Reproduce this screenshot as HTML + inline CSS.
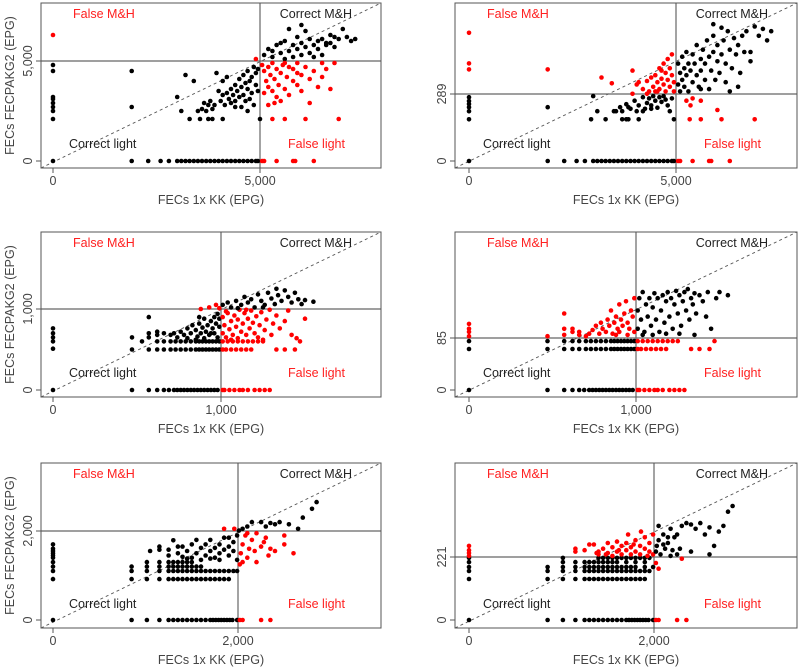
<!DOCTYPE html>
<html><head><meta charset="utf-8">
<style>
html,body{margin:0;padding:0;background:#fff;}
svg{display:block;font-family:"Liberation Sans",Arial,sans-serif;}
</style></head>
<body>
<svg id="chart" width="800" height="667" viewBox="0 0 800 667" xmlns="http://www.w3.org/2000/svg"></svg>
<script>
// ---------- DATA ----------
const xThresholds = [5000, 5000, 1000, 1000, 2000, 2000];
const yThresholds = [5000, 289, 1000, 85, 2000, 221];
const xTickLabels = ["5,000","5,000","1,000","1,000","2,000","2,000"];
const yTickLabels = ["5,000","289","1,000","85","2,000","221"];

const p1ZeroX = [0,1900,2300,2600,2800,3000,3100,3200,3300,3400,3500,3600,3700,3800,3900,4000,4100,4200,4300,4400,4500,4600,4700,4800,4900,4950,5050,5100,5400,5800,5850,6300];
const p1Pts = [[0,2100],[0,2500],[0,2700],[0,2900],[0,3100],[0,3200],[0,4500],[0,4800],[0,6300],[1900,2700],[1900,4500],
[3000,3200],[3100,2500],[3200,4300],[3400,4000],[3500,2500],[3600,2600],[3650,2900],[3700,2500],[3750,2800],[3800,3000],[3850,2600],[3900,2800],[3950,4400],[4000,3500],[4050,3000],[4100,3300],[4100,4000],[4150,2800],[4200,3400],[4200,4200],[4250,3100],[4300,3600],[4300,2900],[4350,3300],[4400,3800],[4400,3000],[4450,3500],[4500,4100],[4500,3200],[4550,3700],[4550,2700],[4600,3300],[4600,4300],[4650,3900],[4650,3000],[4700,3600],[4700,4500],[4750,4000],[4750,3100],[4800,4200],[4800,3400],[4850,4700],[4850,2800],[4900,3800],[4900,4400],[4950,4600],[4950,3500],[4700,2500],[4400,2700],[3300,2100],[3550,2100],[3750,2100],[3850,2100],[4100,2100],[5000,2100],[4900,5100],
[5100,5300],[5200,5600],[5300,5200],[5400,5800],[5500,5400],[5600,5100],[5600,6000],[5700,5500],[5800,5800],[5800,5200],[5900,6200],[5900,5600],[6000,5300],[6000,5900],[6100,6500],[6100,5700],[6200,5400],[6200,6100],[6300,5800],[6300,5200],[6400,6000],[6400,5600],[6500,6100],[6500,5300],[6600,5800],[6700,6300],[6700,5900],[6800,6200],[6900,6100],[7000,6600],[7100,6200],[7200,6000],[7300,6100],[6000,6800],[5700,6600],[6600,5900],[5300,5500],[5500,5900],[6800,5700],
[5050,4800],[5100,4500],[5150,4000],[5200,4700],[5200,3700],[5250,4300],[5300,4900],[5300,3500],[5350,4100],[5400,4600],[5400,3200],[5450,3800],[5500,4400],[5500,3000],[5550,4800],[5600,3600],[5650,4200],[5700,4700],[5700,3300],[5800,4000],[5800,4600],[5900,3800],[5900,4900],[6000,4300],[6000,3500],[6100,4700],[6200,4100],[6200,2900],[6300,4500],[6400,3700],[6500,4900],[6500,4200],[6700,3600],[6600,4600],[6800,4900],[5100,3400],[5200,2800],[5350,2900],[5600,4900],[5900,4400],
[5300,2100],[5600,2100],[6100,2100],[6900,2100]];

const p2ZeroX = [0,1900,2300,2600,2800,3000,3100,3200,3300,3400,3500,3600,3700,3800,3900,4000,4100,4200,4300,4400,4500,4600,4700,4800,4900,4950,5050,5100,5400,5800,5850,6300];
const p2Pts = [[0,180],[0,215],[0,232],[0,246],[0,259],[0,275],[0,395],[0,421],[0,553],[1900,232],[1900,395],
[2950,180],[3300,180],[3700,180],[3800,180],[3850,180],[4100,180],[4950,180],[5330,180],[5600,180],[6100,180],[6900,180],
[3000,280],[3100,215],[3500,215],[3550,215],[3650,232],[3700,215],[3800,245],[3850,232],[3900,225],[4000,260],[4050,215],[4100,240],[4200,275],[4250,225],[4300,250],[4350,270],[4400,240],[4450,280],[4500,260],[4550,230],[4600,275],[4650,255],[4700,280],[4750,265],[4800,240],[4850,215],[4900,270],[4400,225],[4200,215],
[3200,360],[3450,335],[3950,290],[3950,390],[4050,330],[4100,340],[4200,310],[4300,290],[4300,345],[4350,300],[4400,360],[4450,320],[4500,370],[4500,300],[4550,340],[4600,400],[4600,310],[4650,355],[4700,420],[4700,330],[4750,380],[4750,300],[4800,440],[4800,350],[4850,400],[4850,320],[4900,460],[4900,370],[4950,340],[4950,300],[4650,390],[4550,300],
[5250,260],[5350,240],[5400,270],[5600,260],[6000,220],
[5050,330],[5050,420],[5100,380],[5100,300],[5150,450],[5150,350],[5200,400],[5200,320],[5250,470],[5250,370],[5300,420],[5300,300],[5350,390],[5400,460],[5400,340],[5450,420],[5500,370],[5500,500],[5550,320],[5600,440],[5600,390],[5650,480],[5700,350],[5700,420],[5750,520],[5800,450],[5800,310],[5850,390],[5900,470],[5900,540],[5950,350],[6000,430],[6000,500],[6050,380],[6100,460],[6150,520],[6200,420],[6200,340],[6250,560],[6300,480],[6350,400],[6400,530],[6450,460],[6500,500],[6550,380],[6600,540],[6650,470],[6700,560],[6800,430],[6900,580],[7000,540],[7100,570],[7200,520],[7300,560],[5900,590],[6100,575],[6300,300],[5600,310],[6500,320],[6800,470]];

const p3ZeroX = [0,470,570,620,660,690,720,740,760,780,800,820,840,860,880,900,920,940,960,980,1010,1020,1050,1080,1110,1130,1160,1200,1230,1260,1290];
const p3Row500X = [470,570,620,660,700,730,760,790,820,850,870,890,910,930,950,970,990,1010,1030,1060,1090,1120,1150,1180,1330,1380,1440];
const p3Row600X = [530,620,660,700,730,760,790,820,850,870,890,910,930,950,970,990,1010,1040,1070,1100,1130,1160,1190,1220,1250,1470];
const p3Pts = [[0,510],[0,600],[0,650],[0,700],[0,760],[470,650],[570,650],[570,700],[570,900],[620,680],[620,720],[660,700],[700,680],
[720,700],[740,650],[760,720],[780,680],[800,760],[800,640],[820,700],[830,800],[850,740],[860,660],[870,820],[880,700],[890,770],[900,880],[900,640],[910,720],[920,800],[930,680],[940,850],[950,760],[960,900],[960,700],[970,820],[980,940],[980,650],[990,780],[990,880],[940,700],[870,900],[850,620],
[930,1020],[970,1050],[990,1010],[880,1000],
[1010,700],[1010,900],[1020,800],[1030,650],[1040,950],[1050,750],[1060,850],[1070,680],[1080,920],[1090,780],[1100,640],[1100,870],[1110,990],[1120,720],[1130,820],[1140,950],[1150,680],[1160,880],[1170,760],[1180,980],[1190,830],[1200,700],[1210,910],[1220,650],[1230,800],[1240,960],[1260,740],[1270,870],[1290,990],[1300,680],[1310,820],[1330,920],[1350,760],[1380,850],[1400,980],[1420,680],[1450,640],[1500,880],[1030,970],[1060,620],[1150,990],[1250,620],
[1010,1050],[1040,1080],[1060,1020],[1090,1100],[1120,1050],[1140,1150],[1160,1080],[1180,1120],[1200,1020],[1220,1180],[1240,1100],[1260,1050],[1280,1200],[1300,1130],[1320,1060],[1340,1170],[1360,1100],[1380,1230],[1400,1150],[1420,1080],[1440,1200],[1460,1120],[1480,1060],[1500,1110],[1550,1090],[1100,1010],[1330,1250],[1250,1020]];

const p4ZeroX = [0,470,570,620,660,690,720,740,760,780,800,820,840,860,880,900,920,940,960,980,1010,1020,1050,1080,1110,1130,1160,1200,1230,1260,1290];
const p4Row67X = [0,470,570,620,660,700,730,760,790,820,850,870,890,910,930,950,970,990,1010,1030,1060,1090,1120,1150,1180,1330,1380,1440];
const p4Row80X = [0,470,570,620,660,700,730,760,790,820,850,870,890,910,930,950,970,990,1010,1040,1070,1100,1130,1160,1190,1220,1250,1470];
const p4Pts = [[0,88],[0,95],[0,100],[0,108],
[470,88],[570,90],[570,100],[570,125],[620,95],[620,100],[660,90],[660,95],[700,88],[720,92],[740,98],[760,105],[780,92],[790,110],[800,100],[820,95],[830,115],[840,105],[850,130],[860,92],[870,110],[880,120],[890,100],[900,140],[900,95],[910,115],[920,105],[930,125],[940,145],[950,110],[960,100],[970,130],[980,120],[990,150],[990,95],[950,90],[880,90],
[1010,100],[1010,130],[1020,150],[1030,115],[1040,160],[1050,95],[1060,140],[1070,120],[1080,150],[1090,105],[1100,135],[1110,158],[1120,115],[1130,150],[1140,95],[1150,130],[1160,155],[1170,110],[1180,145],[1190,160],[1200,120],[1210,150],[1220,100],[1230,140],[1240,162],[1250,125],[1260,155],[1270,105],[1280,145],[1290,160],[1300,130],[1310,165],[1320,115],[1330,150],[1340,140],[1350,158],[1360,125],[1380,155],[1400,145],[1420,120],[1430,160],[1450,100],[1480,150],[1500,160],[1550,155],[1040,90],[1100,90],[1180,92],[1260,92],[1350,90]];

const p5ZeroX = [0,850,1015,1150,1250,1300,1350,1400,1450,1500,1550,1600,1650,1700,1730,1760,1790,1820,1850,1880,1910,1940,1990,2020,2050,2250,2350];
const p5Row920X = [0,850,1015,1150,1250,1300,1350,1400,1450,1500,1550,1600,1650,1700,1750,1800,1850,1900];
const p5Row1100X = [0,850,1015,1150,1250,1300,1350,1400,1450,1500,1550,1600,1650,1700,1750,1800,1850,1900,1950,1990];
const p5Row1200X = [0,850,1015,1150,1250,1300,1350,1400,1450,1500,1550,1600];
const p5Row1300X = [0,1015,1150,1250,1300,1350,1400,1450,1500];
const p5Pts = [[0,1400],[0,1450],[0,1500],[0,1550],[0,1600],[0,1700],
[1150,1650],[1150,1580],[1250,1580],[1250,1450],[1300,1790],[1350,1500],[1400,1650],[1400,1420],[1450,1550],[1500,1700],[1500,1400],[1550,1800],[1550,1500],[1600,1620],[1650,1450],[1650,1700],[1700,1550],[1700,1800],[1750,1620],[1750,1400],[1800,1700],[1800,1500],[1850,1850],[1850,1580],[1900,1650],[1900,1450],[1950,1750],[1950,1550],[1990,1900],[1990,1350],[1450,1380],[1600,1350],[1800,1350],[1900,1850],[1700,1380],[1350,1650],[1050,1550],
[1850,2050],[1960,2050],
[2020,1250],[2030,1500],[2050,1700],[2080,1900],[2100,1400],[2120,1600],[2150,1800],[2180,1550],[2200,1950],[2250,1650],[2280,1750],[2300,1850],[2330,1450],[2350,1600],[2400,1550],[2500,1700],[2500,1900],[2600,1500],[2050,1300],[2200,1300],[2100,1950],
[2050,2050],[2100,2100],[2150,2200],[2250,2200],[2350,2180],[2400,2150],[2450,2200],[2550,2150],[2650,2050],[2700,2300],[2800,2500],[2850,2650],[2010,2010],[2300,2100]];

const p6ZeroX = [0,850,1015,1150,1250,1300,1350,1400,1450,1500,1550,1600,1650,1700,1730,1760,1790,1820,1850,1880,1910,1940,1990,2020,2050,2250,2350];
const p6Row144X = [0,850,1015,1150,1250,1300,1350,1400,1450,1500,1550,1600,1650,1700,1750,1800,1850,1900];
const p6Row172X = [0,850,1015,1150,1250,1300,1350,1400,1450,1500,1550,1600,1650,1700,1750,1800,1850,1900,1950];
const p6Row186X = [0,850,1015,1150,1250,1300,1350,1400,1450,1500,1550,1600,1650,1700,1750,1800,1900,1990];
const p6Row203X = [0,1015,1150,1250,1300,1350,1400,1450,1500,1550,1600,1700,1800,1900];
const p6Row218X = [0,1015,1400,1450,1500,1550,1600,1650,1700,1750,1800,1850,1900,1950];
const p6Pts = [[0,225],[0,235],[0,245],[0,260],
[1150,240],[1150,250],[1250,245],[1300,265],[1350,265],[1400,240],[1400,230],[1450,250],[1500,235],[1500,270],[1550,225],[1550,255],[1600,240],[1600,275],[1650,230],[1650,260],[1700,245],[1700,270],[1750,230],[1750,255],[1800,240],[1800,280],[1850,260],[1850,230],[1900,250],[1900,290],[1950,270],[1950,240],[1990,300],[1990,230],[1720,300],[1860,310],[1380,235],[1480,230],[1620,245],[1780,265],[1930,225],
[2020,240],[2030,260],[2050,280],[2070,230],[2100,300],[2120,250],[2150,270],[2180,320],[2200,245],[2220,290],[2250,300],[2280,250],[2300,330],[2350,340],[2400,335],[2450,320],[2500,340],[2550,300],[2600,325],[2650,260],[2700,310],[2750,330],[2800,380],[2850,400],[2050,330],[2100,265],[2180,225],[2400,240],[2600,230],[2250,230],[2150,290],
[2020,200],[2050,180],[2300,215]];

const panelRows = [
  [[p1ZeroX,0]],
  [[p2ZeroX,0]],
  [[p3ZeroX,0],[p3Row500X,500],[p3Row600X,600]],
  [[p4ZeroX,0],[p4Row67X,67],[p4Row80X,80]],
  [[p5ZeroX,0],[p5Row920X,920],[p5Row1100X,1100],[p5Row1200X,1200],[p5Row1300X,1300]],
  [[p6ZeroX,0],[p6Row144X,144],[p6Row172X,172],[p6Row186X,186],[p6Row203X,203],[p6Row218X,218]]
];
const panelPts = [p1Pts,p2Pts,p3Pts,p4Pts,p5Pts,p6Pts];

// ---------- LAYOUT ----------
const layout = [
  {L:41,R:381,T:3,B:168,x0:53,xt:260,y0:161,yt:61},
  {L:455,R:797,T:3,B:168,x0:469,xt:676,y0:161,yt:94},
  {L:41,R:381,T:232,B:397,x0:53,xt:221,y0:390,yt:309},
  {L:455,R:797,T:232,B:397,x0:469,xt:636,y0:390,yt:338},
  {L:41,R:381,T:463,B:628,x0:53,xt:238,y0:620,yt:531},
  {L:455,R:797,T:463,B:628,x0:469,xt:654,y0:620,yt:557}
];

const NS = "http://www.w3.org/2000/svg";
const svg = document.getElementById("chart");
function mk(tag, attrs, parent){
  const e = document.createElementNS(NS, tag);
  for (const k in attrs) e.setAttribute(k, attrs[k]);
  (parent||svg).appendChild(e);
  return e;
}

layout.forEach((g, i) => {
  const xT = xThresholds[i], yT = yThresholds[i];
  const sx = v => g.x0 + (g.xt - g.x0) * v / xT;
  const sy = v => g.y0 + (g.yt - g.y0) * v / yT;
  const grp = mk("g", {});
  
  

  const dl = mk("line", {x1:g.L, y1:g.B, x2:g.R, y2:g.T, stroke:"#555", "stroke-width":0.9, "stroke-dasharray":"3,3"}, grp);
  
  

  const vl = mk("line", {x1:sx(xT), y1:g.T, x2:sx(xT), y2:g.B, stroke:"#666", "stroke-width":1.2}, grp);
  
  
  const hl = mk("line", {x1:g.L, y1:sy(yT), x2:g.R, y2:sy(yT), stroke:"#666", "stroke-width":1.2}, grp);
  
  

  const pts = [];
  panelRows[i].forEach(r => r[0].forEach(x => pts.push([x, r[1]])));
  panelPts[i].forEach(p => pts.push(p));
  pts.forEach(p => {
    const red = (p[0] > xT && p[1] < yT) || (p[0] <= xT && p[1] >= yT);
    const c = mk("circle", {cx:sx(p[0]).toFixed(1), cy:sy(p[1]).toFixed(1), r:2.3, fill: red ? "#ff0000" : "#000"}, grp);
    
    
  });

  const bx = mk("rect", {x:g.L, y:g.T, width:g.R-g.L, height:g.B-g.T, fill:"none", stroke:"#555", "stroke-width":1}, grp);
  
  

  [[0,"0"],[xT,xTickLabels[i]]].forEach(t => {
    const x = sx(t[0]);
    mk("line", {x1:x, y1:g.B, x2:x, y2:g.B+5, stroke:"#555"}, grp);
    const tx = mk("text", {x:x, y:g.B+17, "text-anchor":"middle", "font-size":12.5, fill:"#444"}, grp);
    tx.textContent = t[1];
    
    
  });
  [[0,"0"],[yT,yTickLabels[i]]].forEach(t => {
    const y = sy(t[0]);
    mk("line", {x1:g.L, y1:y, x2:g.L-5, y2:y, stroke:"#555"}, grp);
    const tx = mk("text", {x:0, y:0, "text-anchor":"middle", "font-size":12.5, fill:"#444", transform:`translate(${g.L-9},${y}) rotate(-90)`}, grp);
    tx.textContent = t[1];
    
    
  });

  const ql = [
    ["False M&H", g.L+32, g.T+15, "#ff2020", "start", "false-mh-label"],
    ["Correct M&H", g.R-29, g.T+15, "#222", "end", "correct-mh-label"],
    ["Correct light", g.L+28, g.B-20, "#222", "start", "correct-light-label"],
    ["False light", g.R-36, g.B-20, "#ff2020", "end", "false-light-label"]
  ];
  ql.forEach(q => {
    const tx = mk("text", {x:q[1], y:q[2], "font-size":12.5, fill:q[3], "text-anchor":q[4]}, grp);
    tx.textContent = q[0];
    
    
  });

  const xa = mk("text", {x:(g.L+g.R)/2, y:g.B+36, "text-anchor":"middle", "font-size":12.5, fill:"#444"}, grp);
  xa.textContent = "FECs 1x KK (EPG)";
  
  
  if (i % 2 === 0) {
    const ya = mk("text", {x:0, y:0, "text-anchor":"middle", "font-size":12.5, fill:"#444", transform:`translate(14,${(g.T+g.B)/2}) rotate(-90)`}, grp);
    ya.textContent = "FECs FECPAKG2 (EPG)";
    
    
  }
});
</script>
</body></html>
